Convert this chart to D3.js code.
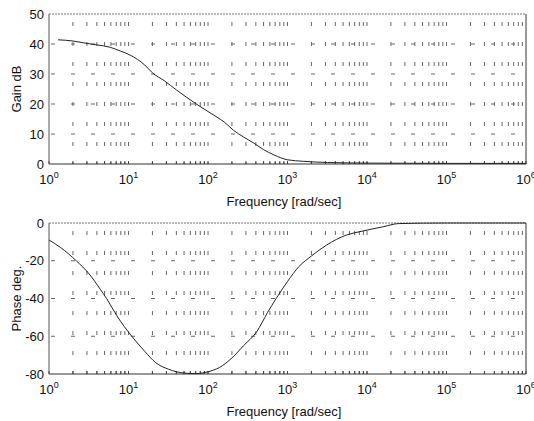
<!DOCTYPE html>
<html>
<head>
<meta charset="utf-8">
<script src="https://cdn.jsdelivr.net/npm/d3@7"></script>
<style>
  body { margin: 0; background: #fff; }
  text { font-family: "Liberation Sans", Arial, sans-serif; fill: #111; }
</style>
</head>
<body>
<div id="vis"></div>
<script>
var width  = 534;
var height = 421;

// data
var decades   = [0, 1, 2, 3, 4, 5, 6];
var gainTicks = [0, 10, 20, 30, 40, 50];
var phaseTicks = [0, -20, -40, -60, -80];

var gainFreq = [1.3, 2, 2.7, 4, 5.9, 8, 10.5, 16, 20, 28, 40, 54, 72, 100, 130, 160,
                210, 280, 380, 500, 680, 1000, 1600, 3200, 10000, 1e5, 1e6];
var gainDb   = [41.4, 41.0, 40.4, 39.7, 38.9, 37.6, 36.3, 33.0, 30.4, 27.8, 24.7, 22.2,
                19.9, 17.5, 15.6, 14.0, 11.2, 9.0, 6.9, 4.8, 3.0, 1.4, 0.9, 0.5, 0.3, 0.2, 0.2];

var phaseFreq = [1, 1.4, 2.2, 3.2, 4.4, 5.3, 7.1, 11, 16, 22, 32, 50, 71, 100, 140, 200,
                 280, 410, 560, 720, 1000, 1400, 2000, 3100, 5500, 8100, 16000, 25000, 1e5, 1e6];
var phaseDeg  = [-9, -13, -20, -27, -35, -40, -49, -60, -68, -74, -77.5, -79.5, -79.8, -78.8,
                 -76.5, -71.5, -65, -57.6, -47.5, -40, -31, -23, -17.5, -11.7, -6.4, -4.6,
                 -2, -0.3, 0, 0];

var left = 49, right = 526;

var x = d3.scaleLog().domain([1, 1e6]).range([left, right]);
var yGain  = d3.scaleLinear().domain([0, 50]).range([164, 14]);
var yPhase = d3.scaleLinear().domain([-80, 0]).range([374, 223]);

// every 1..9 x 10^k position for the dotted grid
var minor = [];
decades.slice(0, -1).forEach(function(k) {
  for (var m = 1; m < 10; m++) minor.push(m * Math.pow(10, k));
});
minor.push(1e6);

var svg = d3.select("#vis").append("svg")
  .attr("width", width)
  .attr("height", height);

function panel(y, ticks, gridTicks, fx, fy, label) {
  var top = y.range()[1], bottom = y.range()[0];
  var g = svg.append("g");

  // vertical dotted grid
  g.selectAll(".vg").data(minor.filter(function(d) { return d > 1 && d < 1e6; }))
    .enter().append("line")
    .attr("x1", function(d) { return x(d); })
    .attr("x2", function(d) { return x(d); })
    .attr("y1", top).attr("y2", bottom)
    .attr("stroke", "#666").attr("stroke-width", 1)
    .attr("stroke-dasharray", "4,16")
    .attr("stroke-dashoffset", 12);

  // horizontal dotted grid
  g.selectAll(".hg").data(gridTicks)
    .enter().append("line")
    .attr("x1", left).attr("x2", right)
    .attr("y1", function(d) { return y(d); })
    .attr("y2", function(d) { return y(d); })
    .attr("stroke", "#666").attr("stroke-width", 1)
    .attr("stroke-dasharray", "4,16")
    .attr("stroke-dashoffset", -2);

  // minor ticks along the bottom
  g.selectAll(".mt").data(minor)
    .enter().append("line")
    .attr("x1", function(d) { return x(d); })
    .attr("x2", function(d) { return x(d); })
    .attr("y1", bottom).attr("y2", bottom - 3)
    .attr("stroke", "#444");

  // box
  g.append("line").attr("x1", left).attr("x2", right).attr("y1", top).attr("y2", top)
    .attr("stroke", "#777").attr("stroke-dasharray", "2,1");
  g.append("line").attr("x1", left).attr("x2", right).attr("y1", bottom).attr("y2", bottom)
    .attr("stroke", "#333");
  g.append("line").attr("x1", left).attr("x2", left).attr("y1", top).attr("y2", bottom)
    .attr("stroke", "#555");
  g.append("line").attr("x1", right).attr("x2", right).attr("y1", top).attr("y2", bottom)
    .attr("stroke", "#333");

  // curve
  var line = d3.line()
    .x(function(d, i) { return x(fx[i]); })
    .y(function(d, i) { return y(fy[i]); })
    .curve(d3.curveMonotoneX);
  g.append("path")
    .datum(fx)
    .attr("d", line)
    .attr("fill", "none")
    .attr("stroke", "#222")
    .attr("stroke-width", 1);

  // y tick labels
  g.selectAll(".yl").data(ticks)
    .enter().append("text")
    .attr("x", 44)
    .attr("y", function(d) { return y(d) + 4.5; })
    .attr("text-anchor", "end")
    .style("font-size", "13px")
    .text(function(d) { return d; });

  // x tick labels 10^k
  var xl = g.selectAll(".xl").data(decades)
    .enter().append("text")
    .attr("x", function(d) { return x(Math.pow(10, d)); })
    .attr("y", bottom + 20)
    .attr("text-anchor", "middle")
    .style("font-size", "13px");
  xl.append("tspan").text("10");
  xl.append("tspan")
    .attr("dy", -6)
    .style("font-size", "9px")
    .text(function(d) { return d; });

  g.append("text")
    .attr("x", 284)
    .attr("y", bottom + 42)
    .attr("text-anchor", "middle")
    .style("font-size", "13px")
    .text("Frequency [rad/sec]");

  g.append("text")
    .attr("transform", "translate(21," + ((top + bottom) / 2) + ")rotate(-90)")
    .attr("text-anchor", "middle")
    .style("font-size", "13px")
    .text(label);
}

panel(yGain, gainTicks, [10, 20, 30, 40], gainFreq, gainDb, "Gain dB");
panel(yPhase, phaseTicks, [-20, -40, -60], phaseFreq, phaseDeg, "Phase deg.");
</script>
</body>
</html>
